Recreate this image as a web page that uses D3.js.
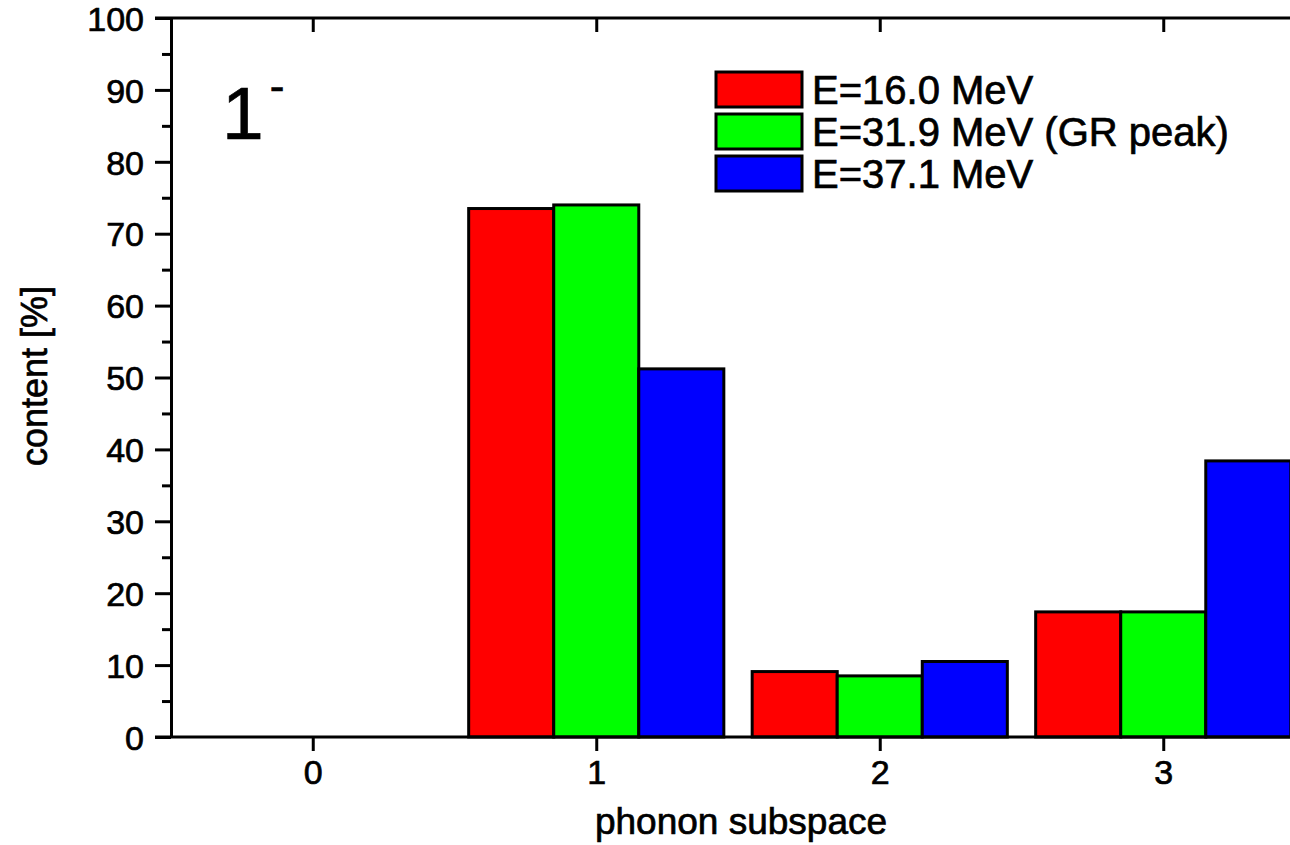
<!DOCTYPE html>
<html>
<head>
<meta charset="utf-8">
<script src="https://cdn.jsdelivr.net/npm/d3@7"></script>
<style>
  html, body { margin: 0; padding: 0; background: #fff; overflow: hidden; }
  svg { display: block; font-family: "Liberation Sans", Arial, sans-serif; }
  svg text { stroke: #000; stroke-width: 0.7px; fill: #000; }
</style>
</head>
<body>
<svg id="chart" width="1290" height="845"></svg>
<script>
// Phonon subspace categories
const categories = [0, 1, 2, 3];
// Content [%] per energy
const series16 = [0, 73.5, 9.1, 17.4];
const series319 = [0, 74.0, 8.5, 17.4];
const series371 = [0, 51.2, 10.5, 38.4];
const seriesNames = ["E=16.0 MeV", "E=31.9 MeV (GR peak)", "E=37.1 MeV"];
const seriesColors = ["#ff0000", "#00ff00", "#0000ff"];
const yTicks = [0, 10, 20, 30, 40, 50, 60, 70, 80, 90, 100];
const yMinorTicks = [5, 15, 25, 35, 45, 55, 65, 75, 85, 95];

const allSeries = [series16, series319, series371];

const svg = d3.select("#chart");
const plotLeft = 171, plotRight = 1305, plotTop = 18, plotBottom = 737;

const x = d3.scaleLinear().domain([-0.5, 3.5]).range([plotLeft, plotRight]);
const y = d3.scaleLinear().domain([0, 100]).range([plotBottom, plotTop]);

const barW = 0.3;
const stroke = 3;

// Bars, drawn group by group
const bars = [];
categories.forEach((c, ci) => {
  allSeries.forEach((s, si) => {
    bars.push({ c, v: s[ci], si });
  });
});

svg.append("g").selectAll("rect").data(bars.filter(d => d.v > 0)).join("rect")
  .attr("x", d => x(d.c + (d.si - 1) * barW - barW / 2))
  .attr("width", d => x(barW) - x(0))
  .attr("y", d => y(d.v))
  .attr("height", d => y(0) - y(d.v))
  .attr("fill", d => seriesColors[d.si])
  .attr("stroke", "#000")
  .attr("stroke-width", stroke);

// Axes
const tickFont = 34;
function styleAxis(g) {
  g.selectAll("path.domain").attr("stroke", "#000").attr("stroke-width", stroke);
  g.selectAll(".tick line").attr("stroke", "#000").attr("stroke-width", stroke);
  g.selectAll(".tick text").attr("font-size", tickFont)
    .attr("font-family", "'Liberation Sans', Arial, sans-serif");
}

// Left axis: major + minor ticks outward
svg.append("g").attr("transform", `translate(${plotLeft},0)`)
  .call(d3.axisLeft(y).tickValues(yTicks).tickSize(16).tickSizeOuter(0).tickPadding(11).tickFormat(d3.format("d")))
  .call(styleAxis)
  .call(g => g.selectAll(".tick text").attr("dy", "0.36em"));
svg.append("g").attr("transform", `translate(${plotLeft},0)`)
  .call(d3.axisLeft(y).tickValues(yMinorTicks).tickSize(9).tickSizeOuter(0).tickFormat(""))
  .call(styleAxis)
  .call(g => g.select("path.domain").remove());

// Right axis: major ticks inward
svg.append("g").attr("transform", `translate(${plotRight},0)`)
  .call(d3.axisRight(y).tickValues(yTicks).tickSize(-14).tickSizeOuter(0).tickFormat(""))
  .call(styleAxis);

// Bottom axis: ticks outward at categories
svg.append("g").attr("transform", `translate(0,${plotBottom})`)
  .call(d3.axisBottom(x).tickValues(categories).tickSize(14).tickSizeOuter(0).tickPadding(9).tickFormat(d3.format("d")))
  .call(styleAxis)
  .call(g => g.select("path.domain").attr("d", `M${plotLeft - 16},0H${plotRight}`));

// Top axis: ticks inward at categories
svg.append("g").attr("transform", `translate(0,${plotTop})`)
  .call(d3.axisTop(x).tickValues(categories).tickSize(-14).tickSizeOuter(0).tickFormat(""))
  .call(styleAxis)
  .call(g => g.select("path.domain").attr("d", `M${plotLeft - 16},0H${plotRight}`));

// Axis titles
svg.append("text")
  .attr("x", 741).attr("y", 834)
  .attr("text-anchor", "middle")
  .attr("font-size", 37)
  .text("phonon subspace");

svg.append("text")
  .attr("transform", "translate(47,376) rotate(-90)")
  .attr("text-anchor", "middle")
  .attr("font-size", 36)
  .text("content [%]");

// Multipolarity label
const lab = svg.append("text").attr("x", 222).attr("y", 139).attr("font-size", 75);
lab.append("tspan").text("1");
lab.append("tspan").attr("dx", 6).attr("dy", -38).attr("font-size", 44).text("-");

// Legend
const lg = svg.append("g");
const legY = [72, 114, 156];
seriesNames.forEach((name, i) => {
  lg.append("rect")
    .attr("x", 716).attr("y", legY[i])
    .attr("width", 86).attr("height", 35)
    .attr("fill", seriesColors[i])
    .attr("stroke", "#000").attr("stroke-width", stroke);
  lg.append("text")
    .attr("x", 812).attr("y", legY[i] + 32)
    .attr("font-size", 40)
    .text(name);
});
</script>
</body>
</html>
